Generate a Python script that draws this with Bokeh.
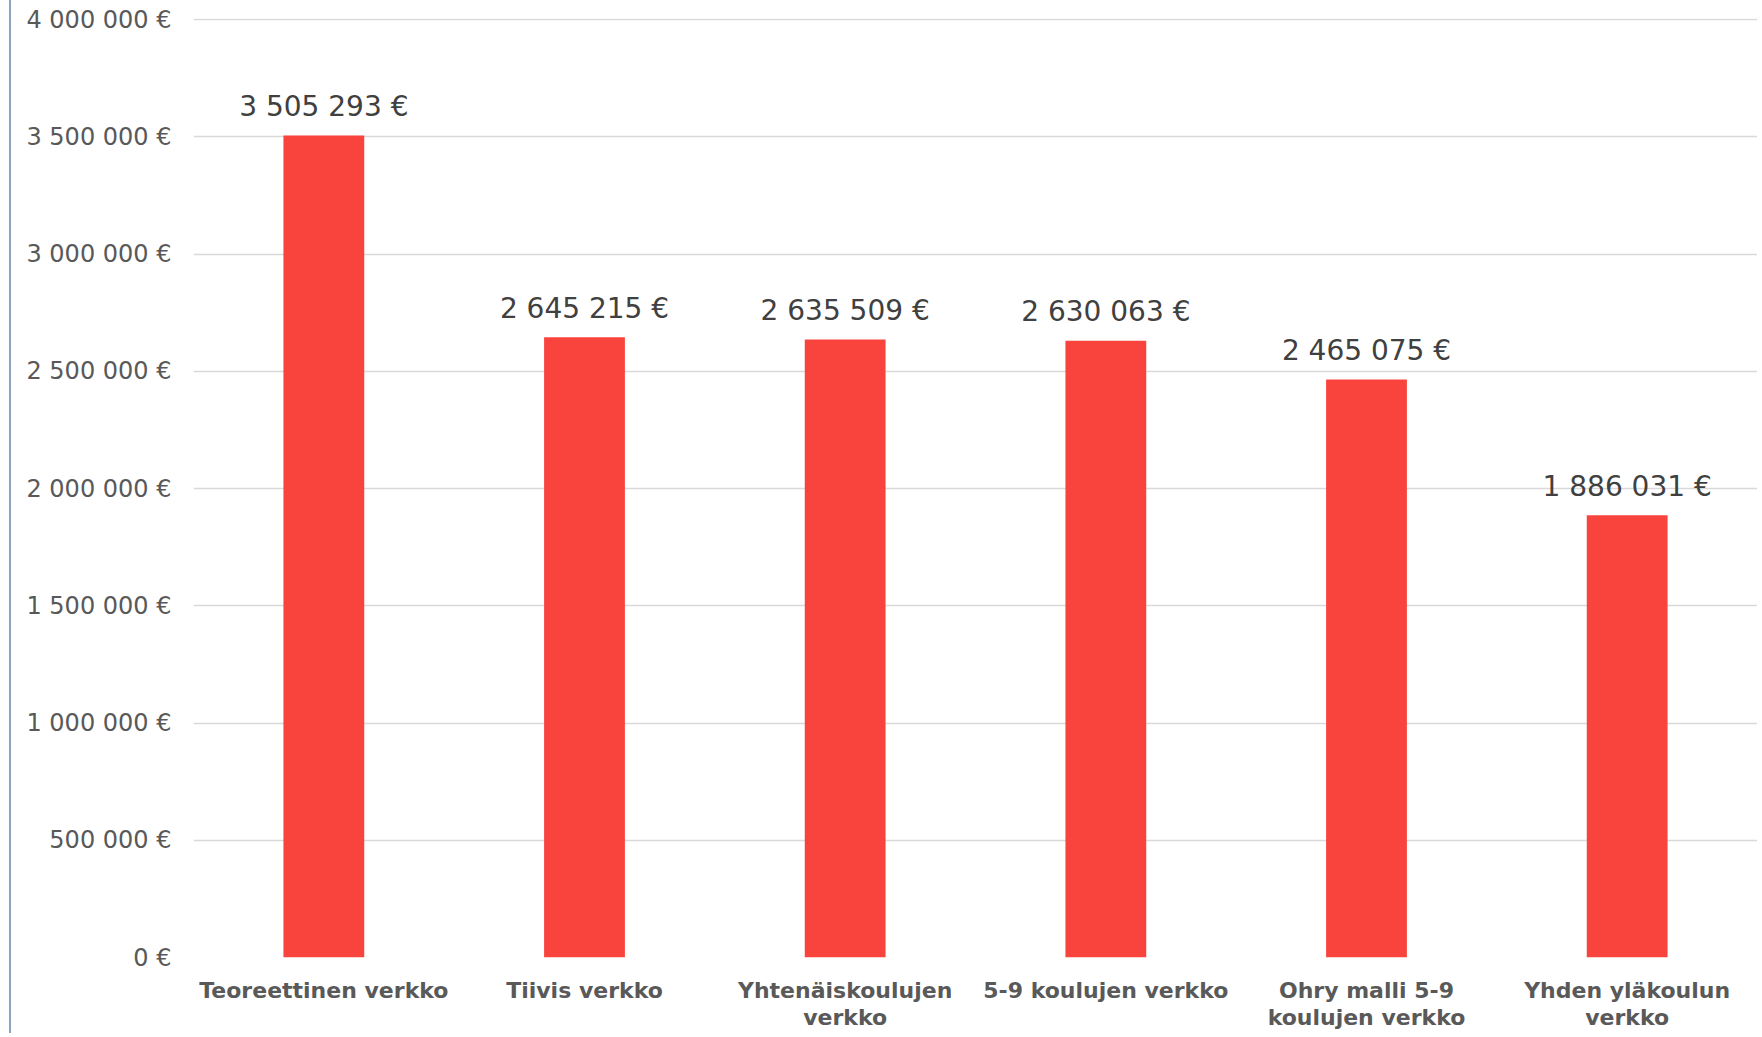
from bokeh.plotting import figure
from bokeh.models import ColumnDataSource, FixedTicker, FactorRange, Range1d
from bokeh.embed import file_html
from bokeh.resources import INLINE
from bokeh.core.properties import value

categories = [
    "Teoreettinen verkko",
    "Tiivis verkko",
    "Yhtenäiskoulujen\nverkko",
    "5-9 koulujen verkko",
    "Ohry malli 5-9\nkoulujen verkko",
    "Yhden yläkoulun\nverkko",
]
costs = [3505293, 2645215, 2635509, 2630063, 2465075, 1886031]
y_ticks = [0, 500000, 1000000, 1500000, 2000000, 2500000, 3000000, 3500000, 4000000]


def eur(v):
    return f"{v:,}".replace(",", " ") + " €"


src = ColumnDataSource(dict(
    cat=categories,
    cost=costs,
    label=[eur(v) for v in costs],
))

p = figure(
    x_range=FactorRange(factors=categories, range_padding=0),
    y_range=Range1d(0, 4004500),
    frame_width=1564, frame_height=939,
    output_backend="svg", toolbar_location=None,
    min_border_left=182, min_border_right=0, min_border_top=18, min_border_bottom=0,
)
p.outline_line_color = None
p.background_fill_color = "white"
p.border_fill_color = "white"
p.styles = {"border-left": "2px solid #8FA3BF", "margin-left": "9px"}

p.vbar(x="cat", top="cost", width=0.31, source=src, color="#F9443E", line_color=None)

p.text(x="cat", y="cost", text="label", source=src,
       text_align="center", text_baseline="middle", y_offset=-29,
       text_font=value("DejaVu Sans"), text_font_size="28px", text_color="#404040")

# y axis
p.yaxis.ticker = FixedTicker(ticks=y_ticks)
p.yaxis.major_label_overrides = {t: eur(t) for t in y_ticks}
p.yaxis.axis_line_color = None
p.yaxis.major_tick_line_color = None
p.yaxis.minor_tick_line_color = None
p.yaxis.major_label_standoff = 16
p.yaxis.major_label_text_font = "DejaVu Sans"
p.yaxis.major_label_text_font_size = "24px"
p.yaxis.major_label_text_color = "#595959"

# x axis
p.xaxis.axis_line_color = None
p.xaxis.major_tick_line_color = None
p.xaxis.minor_tick_line_color = None
p.xaxis.major_label_standoff = 14
p.xaxis.major_label_text_font = "DejaVu Sans"
p.xaxis.major_label_text_font_style = "bold"
p.xaxis.major_label_text_font_size = "22px"
p.xaxis.major_label_text_color = "#595959"
p.xaxis.major_label_text_line_height = 1.1

p.xgrid.grid_line_color = None
p.ygrid.grid_line_color = "#D9D9D9"
p.ygrid.grid_line_width = 1.5

open("out.html", "w").write(file_html(p, INLINE))
